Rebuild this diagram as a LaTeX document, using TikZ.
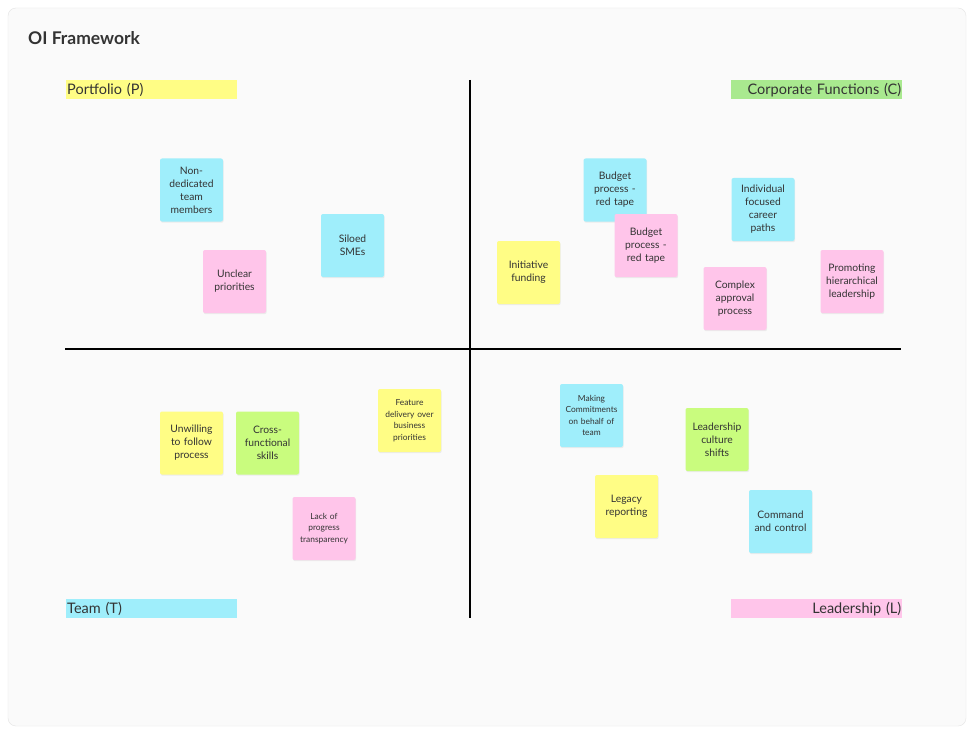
\documentclass[tikz,border=0pt]{standalone}
\usepackage{fontspec}
\setmainfont{Lato}
\usetikzlibrary{shadows}
\definecolor{stickyyellow}{HTML}{FFFD85}
\definecolor{stickycyan}{HTML}{9FEEFB}
\definecolor{stickypink}{HTML}{FFC5EA}
\definecolor{stickygreen}{HTML}{C9FC7E}
\definecolor{taggreen}{HTML}{A9E98F}
\definecolor{inktext}{HTML}{333333}
\begin{document}
\begin{tikzpicture}[
                x=1pt, y=-1pt,
                sticky/.style={rounded corners=2pt, minimum width=63pt, minimum height=63pt,
                    text width=60pt, align=center, inner sep=1pt, text=inktext,
                    font=\fontsize{10.3}{13}\selectfont,
                    drop shadow={opacity=0.12, shadow xshift=0.6pt, shadow yshift=-1.2pt}},
                small/.style={font=\fontsize{8.4}{11.5}\selectfont},
                tag/.style={anchor=north west, minimum width=171pt, minimum height=19pt,
                    text width=169pt, inner sep=1pt, text=inktext, font=\fontsize{14.5}{16}\selectfont},
                axis/.style={line width=1.3pt, black}
            ]
            \useasboundingbox (0,0) rectangle (975,733);
            \fill[white] (0,0) rectangle (975,733);
            \draw[rounded corners=8pt, fill={rgb,255:red,250;green,250;blue,250}, draw={rgb,255:red,228;green,228;blue,228}]
                (8,8) rectangle (966,726);
            \node[anchor=base west, font=\fontsize{17.5}{20}\selectfont\bfseries, text=inktext, inner sep=0pt] (title) at (28,45) {OI Framework};
            % quadrant lines
            \coordinate (top) at (470,80);
            \coordinate (bottom) at (470,618);
            \coordinate (left) at (65,349);
            \coordinate (right) at (901,349);
            \draw[axis] (top) -- (bottom);
            \draw[axis] (left) -- (right);
            % quadrant tags
            \node[tag, fill=stickyyellow, align=left] (portfolio) at (66,80) {Portfolio (P)};
            \node[tag, fill=taggreen, align=right] (corporate) at (731,80) {Corporate Functions (C)};
            \node[tag, fill=stickycyan, align=left] (team) at (66,599) {Team (T)};
            \node[tag, fill=stickypink, align=right] (leadership) at (731,599) {Leadership (L)};
            % portfolio
            \node[sticky, fill=stickycyan] (nondedicated) at (191.5,190) {Non-\\dedicated\\team\\members};
            \node[sticky, fill=stickypink] (unclear) at (234.5,281.5) {Unclear\\priorities};
            \node[sticky, fill=stickycyan] (siloed) at (352.5,245.5) {Siloed\\SMEs};
            % corporate functions
            \node[sticky, fill=stickycyan] (budgetA) at (615,190) {Budget\\process -\\red tape};
            \node[sticky, fill=stickypink] (budgetB) at (646,245.5) {Budget\\process -\\red tape};
            \node[sticky, fill=stickyyellow] (initiative) at (528.5,272.5) {Initiative\\funding};
            \node[sticky, fill=stickycyan] (career) at (763,209.5) {Individual\\focused\\career\\paths};
            \node[sticky, fill=stickypink] (approval) at (735,298.5) {Complex\\approval\\process};
            \node[sticky, fill=stickypink] (promoting) at (852,281.5) {Promoting\\hierarchical\\leadership};
            % team
            \node[sticky, fill=stickyyellow] (unwilling) at (191.5,443) {Unwilling\\to follow\\process};
            \node[sticky, fill=stickygreen] (crossfn) at (267.5,443) {Cross-\\functional\\skills};
            \node[sticky, small, fill=stickyyellow] (feature) at (409.5,420.5) {Feature\\delivery over\\business\\priorities};
            \node[sticky, small, fill=stickypink] (lack) at (324,528.5) {Lack of\\progress\\transparency};
            % leadership
            \node[sticky, small, fill=stickycyan] (commitments) at (591.5,415.5) {Making\\Commitments\\on behalf of\\team};
            \node[sticky, fill=stickygreen] (culture) at (717,439.5) {Leadership\\culture\\shifts};
            \node[sticky, fill=stickyyellow] (legacy) at (626.5,506.5) {Legacy\\reporting};
            \node[sticky, fill=stickycyan] (command) at (780.5,521.5) {Command\\and control};
        \end{tikzpicture}
\end{document}
